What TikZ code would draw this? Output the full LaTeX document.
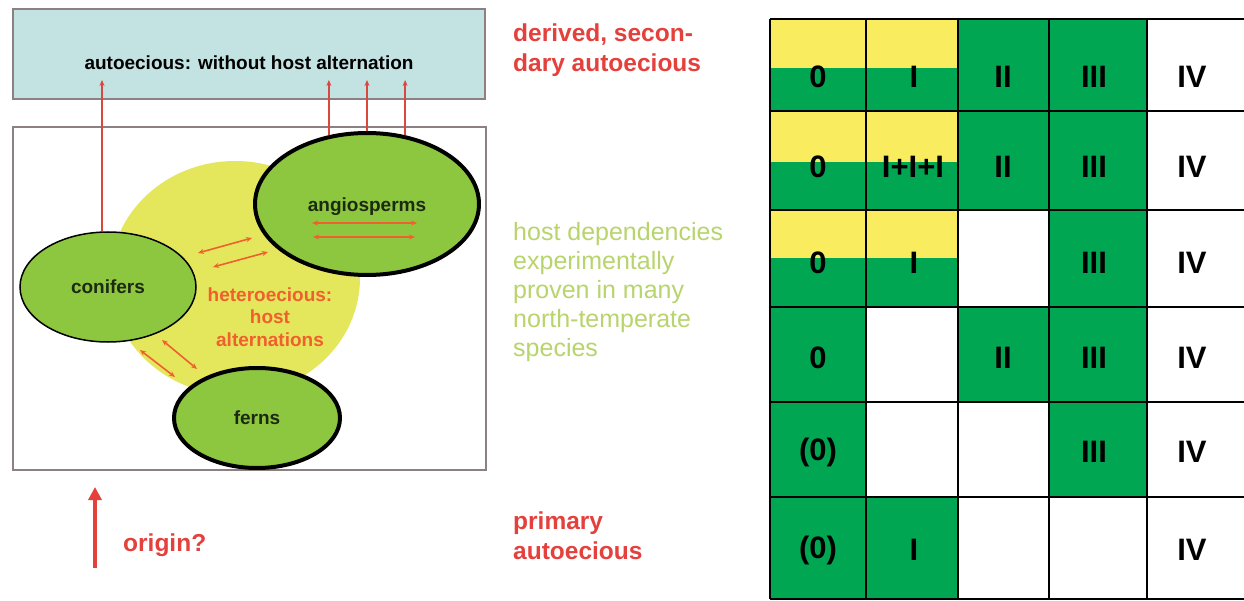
\documentclass[tikz,border=0pt]{standalone}
\usepackage{fontspec}
\setmainfont{Liberation Sans}
\usetikzlibrary{shapes.geometric,arrows.meta}
\definecolor{boxcyan}{HTML}{C3E2E2}
\definecolor{boxline}{HTML}{8C8080}
\definecolor{hostgreen}{HTML}{8DC63F}
\definecolor{halo}{HTML}{E4E65C}
\definecolor{redtxt}{HTML}{E4403C}
\definecolor{redline}{HTML}{D9473D}
\definecolor{orangetxt}{HTML}{F0602E}
\definecolor{paleg}{HTML}{B8D46C}
\definecolor{tgreen}{HTML}{00A651}
\definecolor{tyellow}{HTML}{F9EC5E}
\definecolor{darktxt}{HTML}{1C2A12}
\tikzset{
  framebox/.style={draw=boxline,line width=2pt},
  host/.style={ellipse,draw=black,fill=hostgreen,inner sep=0pt,line width=#1,
    font=\fontsize{19}{22}\selectfont\bfseries,text=darktxt},
  uparrow/.style={draw=redline,line width=1.5pt,-{Stealth[length=6pt,width=5pt]}},
  dblarrow/.style={draw=orangetxt,line width=1.6pt,{Stealth[length=6pt,width=5pt]}-{Stealth[length=6pt,width=5pt]}},
  redlabel/.style={text=redtxt,font=\fontsize{24.5}{30}\selectfont\bfseries,align=left,anchor=north west,inner sep=0pt},
  cell/.style={font=\fontsize{31}{32}\selectfont\bfseries,text=black,inner sep=0pt},
  grid/.style={draw=black,line width=1.5pt}
}
\begin{document}
\begin{tikzpicture}[x=1pt,y=-1pt]
\useasboundingbox[fill=white] (0,0) rectangle (1244,601);
% ---------- left panel ----------
\draw[framebox,fill=boxcyan] (13,9) rectangle (485,99);
\node[font=\fontsize{19}{22}\selectfont\bfseries] (auto) at (249,63) {autoecious: without host alternation};
\draw[framebox] (13,127) rectangle (486,470);
\fill[halo] (235,278) ellipse [x radius=125, y radius=117];
\node[host=1.5pt,minimum width=176pt,minimum height=110pt] (conif) at (108,287) {conifers};
\node[host=4pt,minimum width=224pt,minimum height=142pt] (angio) at (367,204) {};
\node[font=\fontsize{19}{22}\selectfont\bfseries,text=darktxt] (angiotxt) at (367,207) {angiosperms};
\node[host=4pt,minimum width=166pt,minimum height=100pt] (ferns) at (257,418) {ferns};
\node[text=orangetxt,font=\fontsize{19}{22.5}\selectfont\bfseries,align=center] (het) at (270,317) {heteroecious:\\host\\alternations};
% vertical arrows to top box
\coordinate (tc) at (102,80);
\draw[uparrow] (tc |- conif.north) -- (tc);
\draw[uparrow] (angio.119) -- (angio.119 |- tc);
\draw[uparrow] (angio.north) -- (angio.north |- tc);
\draw[uparrow] (angio.61) -- (angio.61 |- tc);
% double arrows
\coordinate (a1) at (312,223); \coordinate (a2) at (417,223);
\coordinate (a3) at (313,237); \coordinate (a4) at (415,237);
\coordinate (b1) at (198,253); \coordinate (b2) at (252,238);
\coordinate (b3) at (213,267); \coordinate (b4) at (268,252);
\coordinate (c1) at (140,350); \coordinate (c2) at (175,377);
\coordinate (c3) at (162,340); \coordinate (c4) at (197,369);
\draw[dblarrow] (a1) -- (a2);
\draw[dblarrow] (a3) -- (a4);
\draw[dblarrow] (b1) -- (b2);
\draw[dblarrow] (b3) -- (b4);
\draw[dblarrow] (c1) -- (c2);
\draw[dblarrow] (c3) -- (c4);
% origin arrow
\coordinate (o1) at (95,568); \coordinate (o2) at (95,487);
\draw[draw=redtxt,line width=3.5pt,-{Triangle[length=13pt,width=13pt]}] (o1) -- (o2);
\node[text=redtxt,font=\fontsize{24.5}{30}\selectfont\bfseries,anchor=west,inner sep=0pt] (orig) at (123,545) {origin?};
% ---------- middle labels ----------
\node[redlabel] (derived) at (513,24) {derived, secon-\\dary autoecious};
\node[text=paleg,font=\fontsize{25}{29}\selectfont,align=left,anchor=north west,inner sep=0pt] (hostdep) at (513,222) {host dependencies\\experimentally\\proven in many\\north-temperate\\species};
\node[redlabel] (primary) at (513,512) {primary\\autoecious};
% ---------- table ----------
\fill[tgreen] (770,19) rectangle (1147,210);
\fill[tgreen] (770,210) rectangle (958,307);
\fill[tgreen] (1049,210) rectangle (1147,307);
\fill[tgreen] (770,307) rectangle (866,402);
\fill[tgreen] (958,307) rectangle (1147,402);
\fill[tgreen] (770,402) rectangle (866,497);
\fill[tgreen] (1049,402) rectangle (1147,497);
\fill[tgreen] (770,497) rectangle (958,599);
\fill[tyellow] (770,19) rectangle (958,68);
\fill[tyellow] (770,111) rectangle (958,162);
\fill[tyellow] (770,210) rectangle (958,258);
\foreach \x in {770,866,958,1049,1147} \draw[grid] (\x,19) -- (\x,599);
\foreach \y in {19,111,210,307,402,497,599} \draw[grid] (770,\y) -- (1244,\y);
% row 1
\node[cell] (r1a) at (818,77) {0};
\node[cell] (r1b) at (914,77) {I};
\node[cell] (r1c) at (1003,77) {II};
\node[cell] (r1d) at (1094,77) {III};
\node[cell] (r1e) at (1192,77) {IV};
% row 2
\node[cell] (r2a) at (818,167) {0};
\node[cell] (r2b) at (913,167) {I+I+I};
\node[cell] (r2c) at (1003,167) {II};
\node[cell] (r2d) at (1094,167) {III};
\node[cell] (r2e) at (1192,167) {IV};
% row 3
\node[cell] (r3a) at (818,263) {0};
\node[cell] (r3b) at (914,263) {I};
\node[cell] (r3d) at (1094,263) {III};
\node[cell] (r3e) at (1192,263) {IV};
% row 4
\node[cell] (r4a) at (818,358) {0};
\node[cell] (r4c) at (1003,358) {II};
\node[cell] (r4d) at (1094,358) {III};
\node[cell] (r4e) at (1192,358) {IV};
% row 5
\node[cell] (r5a) at (818,452) {(0)};
\node[cell] (r5d) at (1094,452) {III};
\node[cell] (r5e) at (1192,452) {IV};
% row 6
\node[cell] (r6a) at (818,550) {(0)};
\node[cell] (r6b) at (914,550) {I};
\node[cell] (r6e) at (1192,550) {IV};
\end{tikzpicture}
\end{document}
